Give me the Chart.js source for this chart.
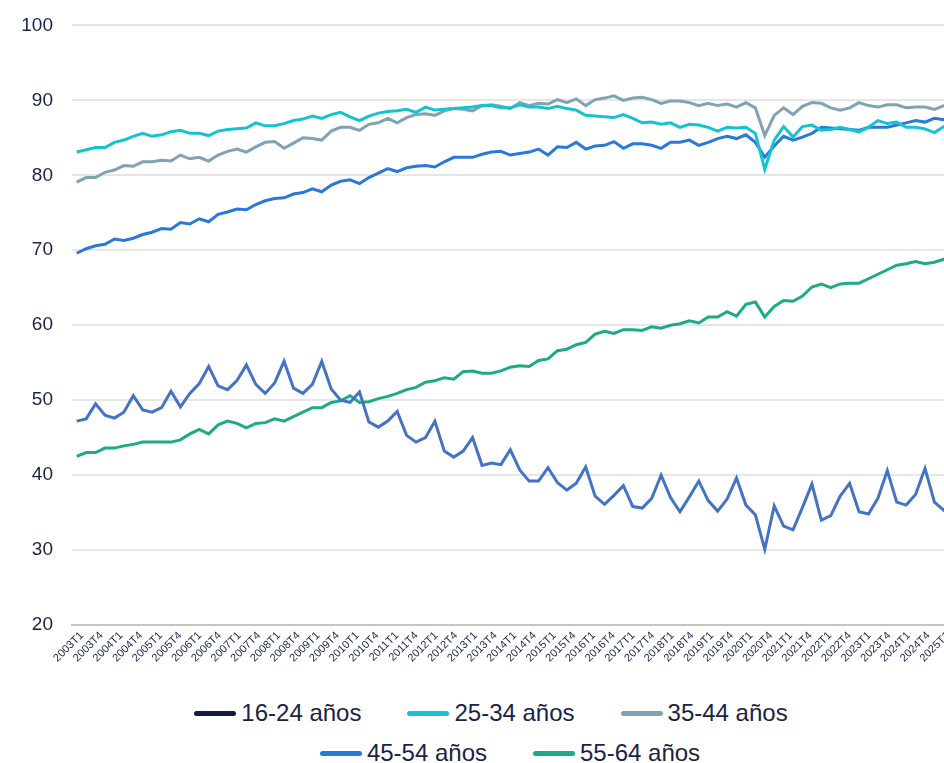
<!DOCTYPE html>
<html>
<head>
<meta charset="utf-8">
<script src="https://cdn.jsdelivr.net/npm/chart.js@4.4.1/dist/chart.umd.min.js"></script>
<style>
html,body{margin:0;padding:0;background:#fff;overflow:hidden;width:944px;height:763px;}
#wrap{position:absolute;left:0;top:-5px;width:1000px;height:695px;}
.legend-row{position:absolute;display:flex;justify-content:center;align-items:center;height:40px;font:24px "Liberation Sans",Arial,sans-serif;color:#1a2346;white-space:nowrap;}
.item{display:flex;align-items:center;}
.item + .item{margin-left:46px;}
.sw{width:42px;height:5px;border-radius:3px;margin-right:5px;}
</style>
</head>
<body>
<div id="wrap"><canvas id="c"></canvas></div>
<div class="legend-row" id="row1" style="left:0;width:982px;top:693px;"></div>
<div class="legend-row" id="row2" style="left:0;width:1020px;top:733px;"></div>
<script>
// Quarterly categories (data axis): 2002T1 .. 2025T2
const categories = [];
for (let y = 2002; y <= 2025; y++) for (let q = 1; q <= 4; q++) { if (y === 2025 && q > 2) break; categories.push(y + 'T' + q); }

// Tick labels shown on the axis
const tickLabels = [];
for (let y = 2003; y <= 2024; y++) { tickLabels.push(y + 'T1'); tickLabels.push(y + 'T4'); }
tickLabels.push('2025T1');

const seriesNames = ['16-24 años', '25-34 años', '35-44 años', '45-54 años', '55-64 años'];
const lineColors = ['#4472c4', '#14c3d0', '#7fa3b3', '#2a78da', '#1cab86'];
const legendColors = ['#101b46', '#14c3d0', '#7fa3b3', '#2a78da', '#1cab86'];

const s1624 = [47.2,47.5,49.5,48.0,47.6,48.4,50.6,48.7,48.4,49.0,
  51.2,49.1,50.9,52.2,54.5,51.9,51.4,52.6,54.7,52.1,
  50.9,52.3,55.2,51.6,50.9,52.1,55.2,51.5,50.0,49.7,
  51.1,47.1,46.4,47.2,48.5,45.3,44.4,45.0,47.2,43.2,
  42.4,43.2,45.0,41.3,41.6,41.4,43.4,40.7,39.2,39.2,
  41.0,39.0,38.0,38.9,41.1,37.2,36.1,37.3,38.6,35.8,
  35.6,36.9,40.0,37.0,35.1,37.1,39.2,36.6,35.2,36.8,
  39.6,36.0,34.7,30.1,35.9,33.2,32.7,35.7,38.8,34.0,
  34.6,37.2,38.9,35.1,34.8,36.9,40.6,36.4,36.0,37.4,
  40.9,36.4,35.3,37.0];
const s2534 = [83.1,83.4,83.7,83.7,84.4,84.7,85.2,85.6,85.2,85.4,
  85.8,86.0,85.6,85.6,85.3,85.9,86.1,86.2,86.3,87.0,
  86.6,86.6,86.9,87.3,87.5,87.9,87.6,88.1,88.4,87.8,
  87.3,87.9,88.3,88.5,88.6,88.8,88.4,89.1,88.7,88.8,
  88.9,89.0,89.1,89.3,89.3,89.0,89.0,89.4,89.1,89.1,
  88.9,89.2,88.9,88.7,88.0,87.9,87.8,87.7,88.1,87.6,
  87.0,87.1,86.8,87.0,86.4,86.8,86.7,86.4,85.9,86.4,
  86.3,86.4,85.6,80.8,84.7,86.5,85.1,86.5,86.7,86.0,
  86.1,86.4,86.1,85.8,86.4,87.3,86.9,87.1,86.4,86.4,
  86.2,85.7,86.5,87.0];
const s3544 = [79.1,79.7,79.7,80.4,80.7,81.3,81.2,81.8,81.8,82.0,
  81.9,82.7,82.2,82.4,81.9,82.7,83.2,83.5,83.1,83.8,
  84.4,84.5,83.6,84.3,85.0,84.9,84.7,85.9,86.4,86.4,
  86.0,86.8,87.0,87.6,87.0,87.7,88.1,88.2,88.0,88.6,
  88.9,88.8,88.6,89.3,89.4,89.2,88.9,89.7,89.3,89.6,
  89.5,90.1,89.7,90.2,89.3,90.1,90.3,90.6,90.0,90.3,
  90.4,90.1,89.6,89.9,89.9,89.7,89.3,89.6,89.3,89.5,
  89.1,89.7,89.0,85.3,88.0,89.0,88.1,89.2,89.7,89.6,
  89.0,88.7,89.0,89.7,89.3,89.1,89.4,89.4,89.0,89.1,
  89.1,88.8,89.3,89.5];
const s4554 = [69.6,70.2,70.6,70.8,71.5,71.3,71.6,72.1,72.4,72.9,
  72.8,73.7,73.5,74.2,73.8,74.8,75.1,75.5,75.4,76.1,
  76.6,76.9,77.0,77.5,77.7,78.2,77.8,78.7,79.2,79.4,
  78.9,79.7,80.3,80.9,80.5,81.0,81.2,81.3,81.1,81.8,
  82.4,82.4,82.4,82.8,83.1,83.2,82.7,82.9,83.1,83.5,
  82.7,83.8,83.7,84.4,83.5,83.9,84.0,84.5,83.6,84.2,
  84.2,84.0,83.6,84.4,84.4,84.7,84.0,84.4,84.9,85.2,
  84.9,85.4,84.4,82.4,83.9,85.2,84.7,85.1,85.6,86.4,
  86.3,86.2,86.1,86.0,86.4,86.4,86.4,86.7,87.0,87.3,
  87.1,87.6,87.4,87.5];
const s5564 = [42.5,43.0,43.0,43.6,43.6,43.9,44.1,44.4,44.4,44.4,
  44.4,44.7,45.5,46.1,45.5,46.7,47.2,46.9,46.3,46.9,
  47.0,47.5,47.2,47.8,48.4,49.0,49.0,49.7,49.9,50.6,
  49.7,49.8,50.2,50.5,50.9,51.4,51.7,52.4,52.6,53.0,
  52.8,53.8,53.9,53.6,53.6,53.9,54.4,54.6,54.5,55.3,
  55.5,56.6,56.8,57.4,57.7,58.8,59.2,58.9,59.4,59.4,
  59.3,59.8,59.6,60.0,60.2,60.6,60.3,61.1,61.1,61.8,
  61.2,62.8,63.1,61.1,62.5,63.3,63.2,63.9,65.1,65.5,
  65.0,65.5,65.6,65.6,66.2,66.8,67.4,68.0,68.2,68.5,
  68.2,68.4,68.8,69.2];

const allSeries = [s1624, s2534, s3544, s4554, s5564];
const textColor = '#1a2346';
const fontFamily = '"Liberation Sans", Arial, sans-serif';

const datasets = allSeries.map((d, i) => ({
  label: seriesNames[i],
  data: d,
  xAxisID: 'x',
  borderColor: lineColors[i],
  backgroundColor: lineColors[i],
  borderWidth: 3,
  pointRadius: 0,
  pointHoverRadius: 0,
  tension: 0,
  fill: false
}));

new Chart(document.getElementById('c'), {
  type: 'line',
  data: { labels: categories, datasets },
  options: {
    responsive: true,
    maintainAspectRatio: false,
    animation: false,
    layout: { padding: { top: 20, right: 42, bottom: 15, left: 0 } },
    plugins: { legend: { display: false }, tooltip: { enabled: false } },
    scales: {
      x: { type: 'category', labels: categories, display: false, offset: true },
      xt: {
        type: 'category', labels: tickLabels, position: 'bottom', offset: true,
        grid: { display: false, drawTicks: false },
        border: { display: true, color: '#c4c4c4', width: 2 },
        ticks: { autoSkip: false, minRotation: 45, maxRotation: 45, padding: 4, color: textColor, font: { size: 11, family: fontFamily } },
        afterFit(s) { s.height = 50; }
      },
      y: {
        min: 20, max: 100,
        ticks: { stepSize: 10, padding: 19, color: textColor, font: { size: 19, family: fontFamily } },
        grid: { color: '#e6e6e6', lineWidth: 2, drawTicks: false },
        border: { display: false },
        afterFit(s) { s.width = 72; }
      }
    }
  }
});

// HTML legend built from the series names and colours
function addItem(row, i) {
  const it = document.createElement('div'); it.className = 'item';
  const sw = document.createElement('span'); sw.className = 'sw'; sw.style.background = legendColors[i];
  const tx = document.createElement('span'); tx.textContent = seriesNames[i];
  it.appendChild(sw); it.appendChild(tx); row.appendChild(it);
}
const r1 = document.getElementById('row1'), r2 = document.getElementById('row2');
[0,1,2].forEach(i => addItem(r1, i));
[3,4].forEach(i => addItem(r2, i));
</script>
</body>
</html>
